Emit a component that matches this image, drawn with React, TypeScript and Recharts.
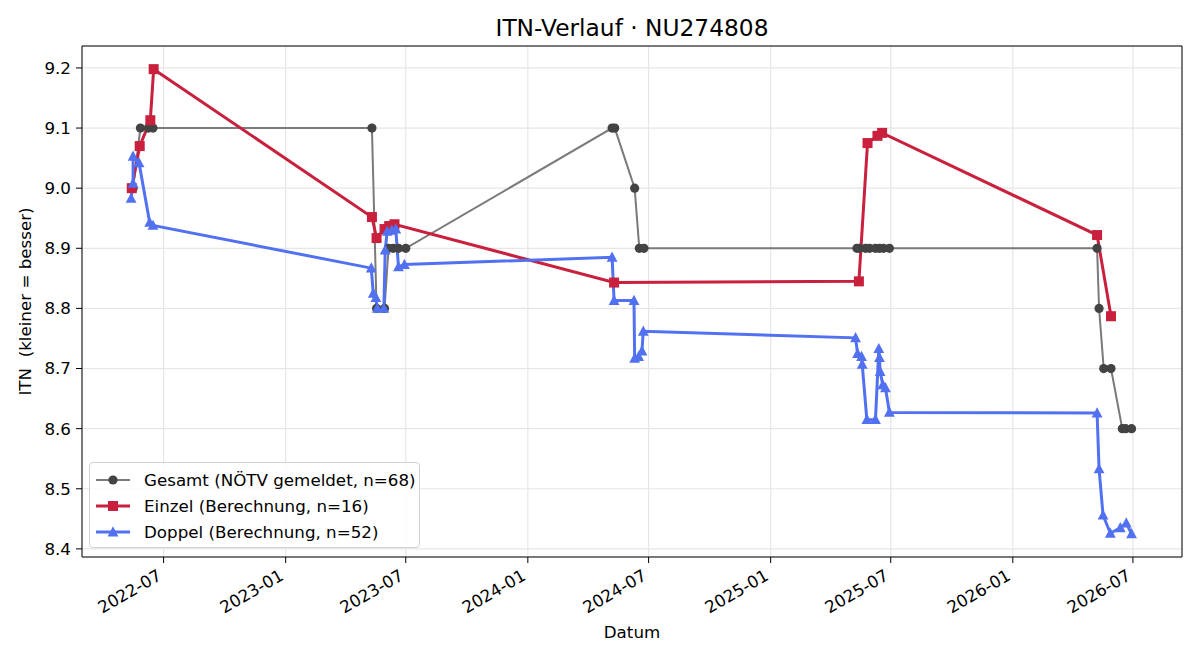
import { LineChart, Line, XAxis, YAxis, CartesianGrid, ReferenceLine } from 'recharts'

// Gesamt (NÖTV gemeldet)
const gesamtDates = [
  '2022-05-16', '2022-05-27', '2022-06-08', '2022-06-15',
  '2023-05-11', '2023-05-18', '2023-05-30', '2023-06-05', '2023-06-12', '2023-06-20', '2023-07-01',
  '2024-05-07', '2024-05-11', '2024-06-10', '2024-06-17', '2024-06-24',
  '2025-05-11', '2025-05-15', '2025-05-24', '2025-05-30', '2025-06-08', '2025-06-14', '2025-06-20', '2025-06-29',
  '2026-05-08', '2026-05-11', '2026-05-18', '2026-05-29', '2026-06-15', '2026-06-20', '2026-06-29',
]
const gesamtValues = [
  9.0, 9.1, 9.1, 9.1,
  9.1, 8.8, 8.8, 8.9, 8.9, 8.9, 8.9,
  9.1, 9.1, 9.0, 8.9, 8.9,
  8.9, 8.9, 8.9, 8.9, 8.9, 8.9, 8.9, 8.9,
  8.9, 8.8, 8.7, 8.7, 8.6, 8.6, 8.6,
]

// Einzel (Berechnung)
const einzelDates = [
  '2022-05-14', '2022-05-26', '2022-06-11', '2022-06-16',
  '2023-05-11', '2023-05-18', '2023-05-30', '2023-06-06', '2023-06-14',
  '2024-05-10',
  '2025-05-14', '2025-05-27', '2025-06-11', '2025-06-18',
  '2026-05-08', '2026-05-29',
]
const einzelValues = [
  9.0, 9.07, 9.113, 9.198,
  8.952, 8.917, 8.932, 8.937, 8.94,
  8.843,
  8.845, 9.075, 9.087, 9.092,
  8.922, 8.787,
]

// Doppel (Berechnung)
const doppelDates = [
  '2022-05-13', '2022-05-16', '2022-05-16', '2022-05-25', '2022-06-10', '2022-06-15',
  '2023-05-10', '2023-05-13', '2023-05-17', '2023-05-19', '2023-05-29', '2023-05-31', '2023-06-03',
  '2023-06-10', '2023-06-16', '2023-06-20', '2023-06-29',
  '2024-05-07', '2024-05-10', '2024-06-09', '2024-06-10', '2024-06-16', '2024-06-21', '2024-06-23',
  '2025-05-09', '2025-05-12', '2025-05-18', '2025-05-19', '2025-05-26', '2025-06-08', '2025-06-13',
  '2025-06-14', '2025-06-15', '2025-06-19', '2025-06-23', '2025-06-29',
  '2026-05-08', '2026-05-11', '2026-05-17', '2026-05-28', '2026-06-12', '2026-06-21', '2026-06-29',
]
const doppelValues = [
  8.983, 9.008, 9.053, 9.042, 8.943, 8.938,
  8.867, 8.825, 8.818, 8.8, 8.8, 8.897, 8.928,
  8.93, 8.932, 8.869, 8.873,
  8.885, 8.813, 8.813, 8.717, 8.72, 8.729, 8.762,
  8.751, 8.725, 8.72, 8.707, 8.615, 8.615, 8.733,
  8.718, 8.695, 8.673, 8.668, 8.627,
  8.626, 8.533, 8.456, 8.426, 8.435, 8.443, 8.425,
]

const xTickDates = ['2022-07-01', '2023-01-01', '2023-07-01', '2024-01-01', '2024-07-01', '2025-01-01', '2025-07-01', '2026-01-01', '2026-07-01']
const yTicks = [8.4, 8.5, 8.6, 8.7, 8.8, 8.9, 9.0, 9.1, 9.2]

const toTime = (d: string) => Date.parse(d + 'T00:00:00Z')
const toSeries = (dates: string[], values: number[]) => dates.map((d, i) => ({ t: toTime(d), v: values[i] }))

const gesamt = toSeries(gesamtDates, gesamtValues)
const einzel = toSeries(einzelDates, einzelValues)
const doppel = toSeries(doppelDates, doppelValues)
const xTicks = xTickDates.map(toTime)
const xDomain = [toTime('2022-02-28'), toTime('2026-09-13')]
const yDomain = [8.3865, 9.2365]

const FONT = 'DejaVu Sans, sans-serif'
const GRAY_LINE = '#7a7a7a'
const GRAY_DOT = '#434343'
const RED = '#c8203d'
const BLUE = '#5271f0'

const fmtMonth = (t: number) => {
  const d = new Date(t)
  return `${d.getUTCFullYear()}-${String(d.getUTCMonth() + 1).padStart(2, '0')}`
}

const DateTick = ({ x, y, payload }: any) => (
  <g transform={`translate(${x - 1},${y + 11})`}>
    <text transform="rotate(-30)" textAnchor="end" fontSize={16.7} fontFamily={FONT} fill="#000">
      {fmtMonth(payload.value)}
    </text>
  </g>
)

const circleDot = (p: any) => <circle key={`g-${p.index}`} cx={p.cx} cy={p.cy} r={4.6} fill={GRAY_DOT} />
const squareDot = (p: any) => (
  <rect key={`e-${p.index}`} x={p.cx - 5} y={p.cy - 5} width={10} height={10} fill={RED} />
)
const triangleDot = (p: any) => (
  <polygon
    key={`d-${p.index}`}
    points={`${p.cx},${p.cy - 5.8} ${p.cx - 5.4},${p.cy + 4.4} ${p.cx + 5.4},${p.cy + 4.4}`}
    fill={BLUE}
  />
)

const legendItems = [
  { label: 'Gesamt (NÖTV gemeldet, n=68)', color: GRAY_LINE, marker: 'circle', width: 2 },
  { label: 'Einzel (Berechnung, n=16)', color: RED, marker: 'square', width: 3 },
  { label: 'Doppel (Berechnung, n=52)', color: BLUE, marker: 'triangle', width: 3 },
]

function LegendBox() {
  return (
    <div
      style={{
        position: 'absolute', left: 89, top: 462, width: 329, height: 84,
        border: '1px solid #d0d0d0', borderRadius: 4, background: 'rgba(255,255,255,0.85)',
        fontFamily: FONT, fontSize: 16.7, color: '#000',
      }}
    >
      {legendItems.map((it, i) => (
        <div key={it.label} style={{ position: 'absolute', left: 6, top: 5 + i * 26, height: 24, display: 'flex', alignItems: 'center' }}>
          <svg width={34} height={24} style={{ marginRight: 14 }}>
            <line x1={0} x2={34} y1={12} y2={12} stroke={it.color} strokeWidth={it.width} />
            {it.marker === 'circle' && <circle cx={17} cy={12} r={4.6} fill={GRAY_DOT} />}
            {it.marker === 'square' && <rect x={12} y={7} width={10} height={10} fill={RED} />}
            {it.marker === 'triangle' && <polygon points="17,6.2 11.6,16.4 22.4,16.4" fill={BLUE} />}
          </svg>
          <span style={{ whiteSpace: 'pre' }}>{it.label}</span>
        </div>
      ))}
    </div>
  )
}

export default function App() {
  return (
    <div style={{ position: 'absolute', left: 0, top: 0, width: 1200, height: 660, background: '#fff', fontFamily: FONT }}>
      <div
        style={{
          position: 'absolute', left: 82, top: 14, width: 1100, textAlign: 'center',
          fontSize: 23.3, lineHeight: '28px', color: '#000',
        }}
      >
        ITN-Verlauf · NU274808
      </div>
      <LineChart width={1200} height={660} margin={{ top: 46, right: 18, bottom: 13, left: 12 }}>
        <CartesianGrid stroke="#e6e6e6" strokeWidth={1.2} />
        <XAxis
          dataKey="t"
          type="number"
          domain={xDomain}
          ticks={xTicks}
          allowDataOverflow
          height={90}
          tick={<DateTick />}
          tickSize={6}
          tickMargin={5}
          stroke="#000"
          tickLine={{ stroke: '#000' }}
          label={{ value: 'Datum', position: 'insideBottom', offset: 9, fill: '#000', fontSize: 16.7, fontFamily: FONT }}
        />
        <YAxis
          type="number"
          domain={yDomain}
          ticks={yTicks}
          allowDataOverflow
          width={70}
          tickSize={6}
          tickMargin={5}
          stroke="#000"
          tickFormatter={(v: number) => v.toFixed(1)}
          tick={{ fill: '#000', fontSize: 16.7, fontFamily: FONT }}
          label={{
            value: 'ITN\u00a0 (kleiner = besser)',
            angle: -90,
            position: 'insideLeft',
            offset: 13,
            fill: '#000',
            fontSize: 16.7,
            fontFamily: FONT,
            style: { textAnchor: 'middle' },
          }}
        />
        {/* top and right spines */}
        <ReferenceLine y={yDomain[1]} stroke="#000" strokeWidth={1} />
        <ReferenceLine x={xDomain[1]} stroke="#000" strokeWidth={1} />
        <Line data={gesamt} dataKey="v" type="linear" stroke={GRAY_LINE} strokeWidth={2} dot={circleDot} activeDot={false} isAnimationActive={false} />
        <Line data={einzel} dataKey="v" type="linear" stroke={RED} strokeWidth={3} dot={squareDot} activeDot={false} isAnimationActive={false} />
        <Line data={doppel} dataKey="v" type="linear" stroke={BLUE} strokeWidth={3} dot={triangleDot} activeDot={false} isAnimationActive={false} />
      </LineChart>
      <LegendBox />
    </div>
  )
}
